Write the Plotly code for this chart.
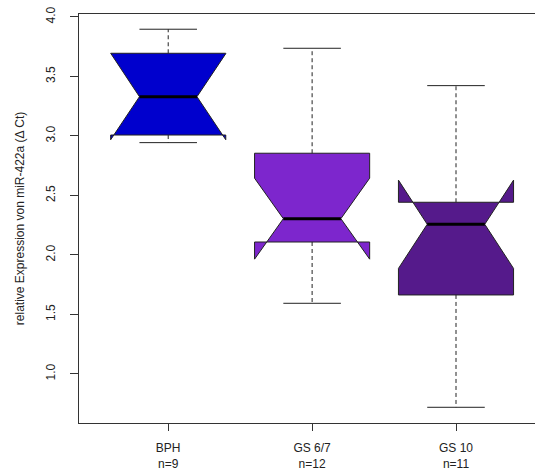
import numpy as np
import plotly.graph_objects as go

# Group summary statistics (relative expression of miR-422a, delta Ct)
groups = ["BPH", "GS 6/7", "GS 10"]
n_obs = [9, 12, 11]
whisker_low = [2.944, 1.594, 0.720]
q1 = [3.008, 2.109, 1.664]
median = [3.330, 2.305, 2.258]
q3 = [3.695, 2.855, 2.443]
whisker_high = [3.897, 3.737, 3.423]
colors = ["#0000CD", "#7D26CD", "#551A8B"]

tick_text = [f"{g}<br>n={n}" for g, n in zip(groups, n_obs)]

half_w = 0.4      # half box width (x units)
staple_w = 0.2    # half staple width
edge = "#222222"

fig = go.Figure()

for i, g in enumerate(groups):
    x = i + 1
    # notch extent as in R's boxplot.stats: +/- 1.58 * IQR / sqrt(n)
    notch = 1.58 * (q3[i] - q1[i]) / np.sqrt(n_obs[i])
    nl, nu = median[i] - notch, median[i] + notch
    px = [x - half_w, x - half_w, x - half_w / 2, x - half_w, x - half_w,
          x + half_w, x + half_w, x + half_w / 2, x + half_w, x + half_w,
          x - half_w]
    py = [q1[i], nl, median[i], nu, q3[i],
          q3[i], nu, median[i], nl, q1[i],
          q1[i]]
    fig.add_trace(go.Scatter(
        x=px, y=py, mode="lines", fill="toself", fillcolor=colors[i],
        line=dict(color=edge, width=1), hoverinfo="skip", showlegend=False))

    # whiskers (dashed)
    for a, b in [(q3[i], whisker_high[i]), (q1[i], whisker_low[i])]:
        fig.add_trace(go.Scatter(
            x=[x, x], y=[a, b], mode="lines",
            line=dict(color=edge, width=1, dash="4px,3px"),
            hoverinfo="skip", showlegend=False))
    # staples
    for v in [whisker_high[i], whisker_low[i]]:
        fig.add_trace(go.Scatter(
            x=[x - staple_w, x + staple_w], y=[v, v], mode="lines",
            line=dict(color=edge, width=1),
            hoverinfo="skip", showlegend=False))
    # median bar
    fig.add_trace(go.Scatter(
        x=[x - half_w / 2, x + half_w / 2], y=[median[i], median[i]],
        mode="lines", line=dict(color="black", width=3),
        hoverinfo="skip", showlegend=False))

font = dict(family="Liberation Sans, Arial, sans-serif", size=12, color="#222222")

fig.update_layout(
    width=535, height=472,
    margin=dict(l=79, r=0, t=14, b=49),
    paper_bgcolor="white", plot_bgcolor="white",
    font=font,
    xaxis=dict(
        range=[0.38, 3.549], tickmode="array", tickvals=[1, 2, 3],
        ticktext=tick_text, showgrid=False, zeroline=False,
        showline=True, mirror=True, linecolor="#333333", linewidth=1,
        ticks="outside", ticklen=7, tickcolor="#333333",
        ticklabelstandoff=7, tickfont=font),
    yaxis=dict(
        range=[0.588, 4.025], tickmode="array",
        tickvals=[1.0, 1.5, 2.0, 2.5, 3.0, 3.5, 4.0],
        ticktext=["1.0", "1.5", "2.0", "2.5", "3.0", "3.5", "4.0"],
        tickangle=-90, showgrid=False, zeroline=False,
        showline=True, linecolor="#333333", linewidth=1,
        ticks="outside", ticklen=8, tickcolor="#333333",
        ticklabelstandoff=10, tickfont=font,
        title=dict(text="relative Expression von miR-422a (Δ Ct)",
                   font=font, standoff=17)),
)

fig.write_html("out.html")
